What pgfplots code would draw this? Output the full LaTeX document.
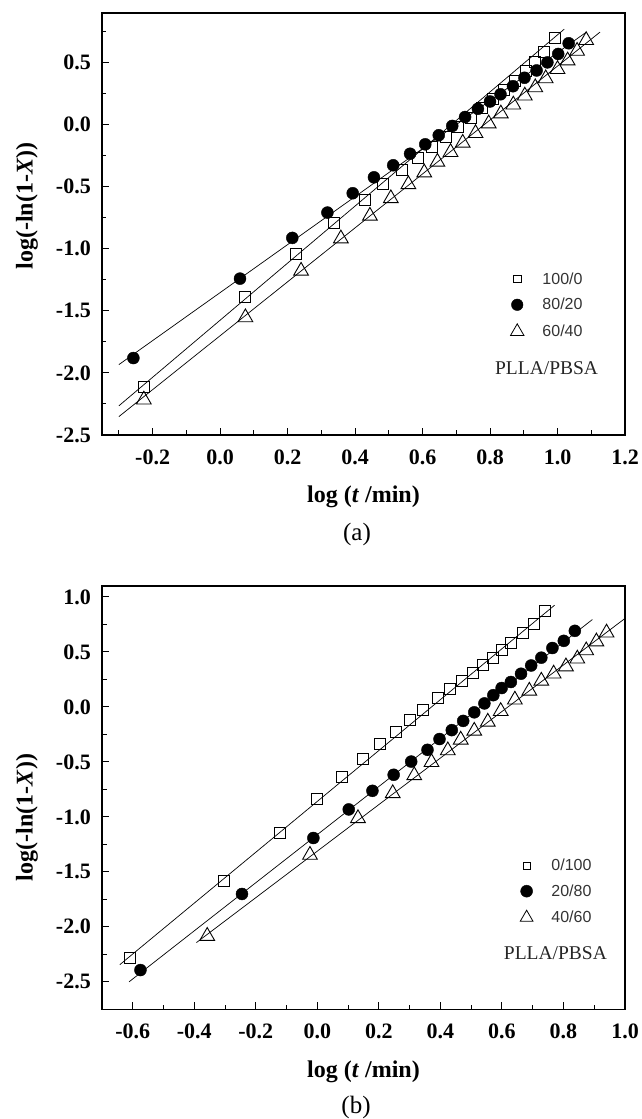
\documentclass[border=0pt]{standalone}
\usepackage{fontspec}
\setmainfont{Liberation Serif}
\newfontfamily\legfont{Liberation Sans}
\usepackage{pgfplots}
\pgfplotsset{compat=1.18}

\pgfplotsset{
  kin/.style={
    scale only axis, width=523pt,
    axis line style={line width=1.2pt},
    tick align=inside, xtick pos=bottom, ytick pos=left,
    major tick length=7pt, minor tick length=4.5pt,
    every tick/.style={line width=1pt, black},
    /pgf/number format/assume math mode=true,
    xticklabel style={/pgf/number format/fixed,/pgf/number format/fixed zerofill,/pgf/number format/precision=1, inner sep=0pt, yshift=-14.5pt},
    yticklabel style={/pgf/number format/fixed,/pgf/number format/fixed zerofill,/pgf/number format/precision=1, inner sep=0pt, xshift=-11pt},
    ticklabel style={font=\fontsize{22}{22}\selectfont\bfseries},
    label style={font=\fontsize{24}{24}\selectfont\bfseries},
    xlabel={log (\textit{t} /min)},
    ylabel={log(-ln(1-\textit{X}))},
    xlabel style={at={(axis description cs:0.5,-0.147)}, anchor=center},
    legend style={draw=none, fill=none, inner sep=0pt, outer sep=0pt,
      font=\fontsize{16}{16}\selectfont\legfont, text=black!80,
      row sep=12.5pt, column sep=18.5pt,
      nodes={inner sep=0pt}, anchor=north west, xshift=-6pt, yshift=6pt},
    legend cell align=left,
    legend image code/.code={\path[draw=none,fill=none] (-6pt,-6pt) rectangle (6pt,6pt); \draw[#1] plot coordinates {(0pt,0pt)};},
  },
  fit/.style={black, line width=0.7pt, no marks, forget plot},
  sq/.style={only marks, mark=square, mark size=5.5pt, mark options={line width=0.9pt, black}, forget plot},
  ci/.style={only marks, mark=*, mark size=6pt, mark options={black, fill=black}, forget plot},
  tr/.style={only marks, mark=triangle, mark size=8.5pt, mark options={line width=0.9pt, black}, forget plot},
}

\begin{document}
\begin{tikzpicture}
\useasboundingbox (0,0) rectangle (642pt,1119pt);

% ---------------- (a) ----------------
\begin{axis}[kin,
  at={(102pt,684pt)}, anchor=south west, height=422pt,
  xmin=-0.35, xmax=1.2, ymin=-2.5, ymax=0.9,
  xtick={-0.2,0,0.2,0.4,0.6,0.8,1.0,1.2},
  minor xtick={-0.3,-0.1,0.1,0.3,0.5,0.7,0.9,1.1},
  ytick={-2.5,-2,-1.5,-1,-0.5,0,0.5},
  minor ytick={-2.25,-1.75,-1.25,-0.75,-0.25,0.25,0.75},
  ylabel style={at={(axis description cs:-0.1434,0.543)}, anchor=center},
  legend style={at={(0.7925,0.3705)}},
  extra description/.code={
    \node[font=\fontsize{19.5}{19.5}\selectfont, text=black!85] at (0.85,0.1588) {PLLA/PBSA};
    \node[font=\fontsize{25}{25}\selectfont] at (0.4876,-0.2346) {(a)};
  },
]
\addplot[fit] coordinates {(-0.30,-2.265) (1.02,0.77)};
\addplot[fit] coordinates {(-0.30,-1.933) (1.085,0.745)};
\addplot[fit] coordinates {(-0.30,-2.352) (1.126,0.746)};
\addplot[sq] coordinates {
(-0.226,-2.11) (0.073,-1.39) (0.226,-1.04) (0.338,-0.79) (0.428,-0.61)
(0.484,-0.475) (0.539,-0.368) (0.585,-0.268) (0.628,-0.180) (0.668,-0.098)
(0.706,-0.018) (0.742,0.058) (0.777,0.135) (0.810,0.208) (0.842,0.283)
(0.874,0.355) (0.905,0.430) (0.934,0.505) (0.960,0.585) (0.993,0.695)};
\addplot[ci] coordinates {
(-0.257,-1.88) (0.059,-1.24) (0.214,-0.912) (0.318,-0.708) (0.393,-0.552)
(0.456,-0.424) (0.513,-0.327) (0.563,-0.234) (0.608,-0.158) (0.648,-0.085)
(0.688,-0.010) (0.726,0.062) (0.764,0.128) (0.800,0.187) (0.831,0.245)
(0.868,0.310) (0.902,0.378) (0.938,0.437) (0.970,0.502) (1.002,0.570) (1.033,0.656)};
\addplot[tr] coordinates {
(-0.226,-2.216) (0.075,-1.553) (0.240,-1.178) (0.358,-0.918) (0.444,-0.735)
(0.506,-0.594) (0.558,-0.481) (0.605,-0.386) (0.644,-0.300) (0.683,-0.222)
(0.719,-0.147) (0.757,-0.069) (0.796,0.009) (0.832,0.089) (0.869,0.161)
(0.903,0.233) (0.934,0.300) (0.965,0.372) (1.000,0.447) (1.030,0.516)
(1.058,0.594) (1.085,0.680)};
\addlegendimage{only marks, mark=square, mark size=3.7pt, mark options={line width=0.8pt, black}}
\addlegendentry{100/0}
\addlegendimage{only marks, mark=*, mark size=5.8pt, mark options={black, fill=black}}
\addlegendentry{80/20}
\addlegendimage{only marks, mark=triangle, mark size=7.8pt, mark options={line width=0.8pt, black}}
\addlegendentry{60/40}
\end{axis}

% ---------------- (b) ----------------
\begin{axis}[kin,
  at={(102pt,109.7pt)}, anchor=south west, height=423.3pt,
  xmin=-0.7, xmax=1.0, ymin=-2.75, ymax=1.1,
  xtick={-0.6,-0.4,-0.2,0,0.2,0.4,0.6,0.8,1.0},
  minor xtick={-0.5,-0.3,-0.1,0.1,0.3,0.5,0.7,0.9},
  ytick={-2.5,-2,-1.5,-1,-0.5,0,0.5,1.0},
  minor ytick={-2.25,-1.75,-1.25,-0.75,-0.25,0.25,0.75},
  ylabel style={at={(axis description cs:-0.1434,0.453)}, anchor=center},
  legend style={at={(0.8113,0.3408)}},
  extra description/.code={
    \node[font=\fontsize{19.5}{19.5}\selectfont, text=black!85] at (0.867,0.133) {PLLA/PBSA};
    \node[font=\fontsize{25}{25}\selectfont] at (0.4857,-0.231) {(b)};
  },
]
\addplot[fit] coordinates {(-0.642,-2.344) (0.771,0.925)};
\addplot[fit] coordinates {(-0.612,-2.50) (0.894,0.795)};
\addplot[fit] coordinates {(-0.393,-2.143) (1.0,0.805)};
\addplot[sq] coordinates {
(-0.608,-2.285) (-0.305,-1.580) (-0.123,-1.146) (0.000,-0.841) (0.079,-0.640)
(0.148,-0.477) (0.205,-0.338) (0.254,-0.224) (0.301,-0.120) (0.342,-0.023)
(0.391,0.081) (0.430,0.166) (0.470,0.237) (0.506,0.312) (0.539,0.383)
(0.570,0.448) (0.599,0.519) (0.629,0.584) (0.669,0.675) (0.705,0.756) (0.739,0.870)};
\addplot[ci] coordinates {
(-0.575,-2.393) (-0.245,-1.701) (-0.013,-1.192) (0.102,-0.932) (0.179,-0.763)
(0.248,-0.617) (0.305,-0.497) (0.358,-0.390) (0.397,-0.292) (0.437,-0.211)
(0.474,-0.127) (0.510,-0.049) (0.543,0.032) (0.572,0.107) (0.599,0.172)
(0.629,0.227) (0.662,0.302) (0.695,0.377) (0.728,0.448) (0.764,0.536)
(0.801,0.601) (0.837,0.692)};
\addplot[tr] coordinates {
(-0.358,-2.084) (-0.024,-1.347) (0.132,-1.013) (0.245,-0.786) (0.315,-0.623)
(0.371,-0.503) (0.424,-0.396) (0.466,-0.299) (0.510,-0.218) (0.554,-0.136)
(0.596,-0.039) (0.642,0.065) (0.689,0.146) (0.728,0.237) (0.768,0.302)
(0.808,0.367) (0.845,0.438) (0.874,0.513) (0.907,0.594) (0.940,0.675)};
\addlegendimage{only marks, mark=square, mark size=3.6pt, mark options={line width=0.8pt, black}}
\addlegendentry{0/100}
\addlegendimage{only marks, mark=*, mark size=6pt, mark options={black, fill=black}}
\addlegendentry{20/80}
\addlegendimage{only marks, mark=triangle, mark size=7.3pt, mark options={line width=0.8pt, black}}
\addlegendentry{40/60}
\end{axis}
\end{tikzpicture}
\end{document}
